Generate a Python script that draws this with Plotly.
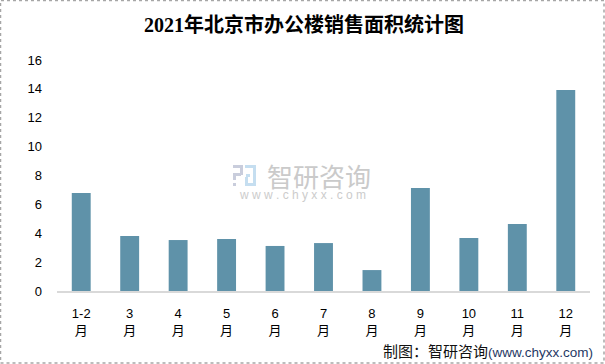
import plotly.graph_objects as go

categories = ["1-2<br>月", "3<br>月", "4<br>月", "5<br>月", "6<br>月", "7<br>月", "8<br>月", "9<br>月", "10<br>月", "11<br>月", "12<br>月"]
values = [6.79, 3.81, 3.53, 3.6, 3.12, 3.32, 1.45, 7.13, 3.67, 4.64, 13.92]
y_ticks = [0, 2, 4, 6, 8, 10, 12, 14, 16]
W, H = 605, 364
L, R, T, B = 57, 590, 60, 291

fig = go.Figure(go.Bar(x=categories, y=values, marker_color="#5F92A9", marker_line_width=0, width=0.39))

def px(x):
    return (x - L) / (R - L)
def py(y):
    return (B - y) / (B - T)

shapes = [dict(type="rect", xref="paper", yref="paper", x0=px(0.5), x1=px(W - 1), y0=py(H - 1), y1=py(0.5),
               line=dict(color="#A6A6A6", width=1.5, dash="dot"), layer="below")]
for (x0, y0, x1, y1, c) in [(233, 165, 243, 168, "#C9CDDC"), (240, 168, 243, 175, "#C9CDDC"), (233, 173, 241, 176, "#C9CDDC"),
                            (233, 176, 236, 180, "#C9CDDC"), (233, 183, 236, 186, "#C9CDDC"), (245, 165, 256, 168, "#C5DEF0"),
                            (253, 168, 256, 186, "#C5DEF0"), (246, 174, 250, 177, "#C5DEF0"), (245, 183, 253, 186, "#C5DEF0"),
                            (245, 177, 248, 186, "#C5DEF0")]:
    shapes.append(dict(type="rect", xref="paper", yref="paper", x0=px(x0), x1=px(x1), y0=py(y1), y1=py(y0),
                       fillcolor=c, line_width=0, layer="below"))

annotations = [
    dict(text="<b>2021年北京市办公楼销售面积统计图</b>", x=px(303.5), y=py(25), xref="paper", yref="paper", showarrow=False,
         font=dict(family="Liberation Serif, Noto Sans CJK SC", size=20, color="#000000"), xanchor="center", yanchor="middle"),
    dict(text="智研咨询", x=px(318.5), y=py(175), xref="paper", yref="paper", showarrow=False,
         font=dict(family="Noto Sans CJK SC", size=26, color="#CACACA"), xanchor="center", yanchor="middle"),
    dict(text="w w w . c h y x x . c o m", x=px(302.5), y=py(195), xref="paper", yref="paper", showarrow=False,
         font=dict(family="Liberation Sans", size=12, color="#CCCCCC"), xanchor="center", yanchor="middle"),
    dict(text="<span style='font-size:15px'>制图：智研咨询</span><span style='color:#1F3864;font-size:13.5px'>(www.chyxx.com)</span>", x=px(595), y=py(351), xref="paper", yref="paper", showarrow=False,
         font=dict(family="Liberation Sans, Noto Sans CJK SC", size=14, color="#111111"), xanchor="right", yanchor="middle"),
]

fig.update_layout(
    width=W, height=H, autosize=False, paper_bgcolor="white", plot_bgcolor="rgba(0,0,0,0)", showlegend=False,
    margin=dict(l=L, r=W - R, t=T, b=H - B), shapes=shapes, annotations=annotations,
    font=dict(family="Liberation Sans, Noto Sans CJK SC", size=13, color="#000000"),
    xaxis=dict(type="category", showline=True, linecolor="#D9D9D9", linewidth=1.5, ticks="", ticklen=0, tickangle=0,
               tickfont=dict(size=13), showgrid=False, ticklabelstandoff=10),
    yaxis=dict(range=[0, 16], tickmode="array", tickvals=y_ticks, showgrid=False, zeroline=False, showline=False,
               ticks="", tickfont=dict(size=13), ticklabelstandoff=14),
)
fig.write_html("out.html", config=dict(displayModeBar=False),
               post_script="document.body.style.margin='0';document.body.style.overflow='hidden';")
